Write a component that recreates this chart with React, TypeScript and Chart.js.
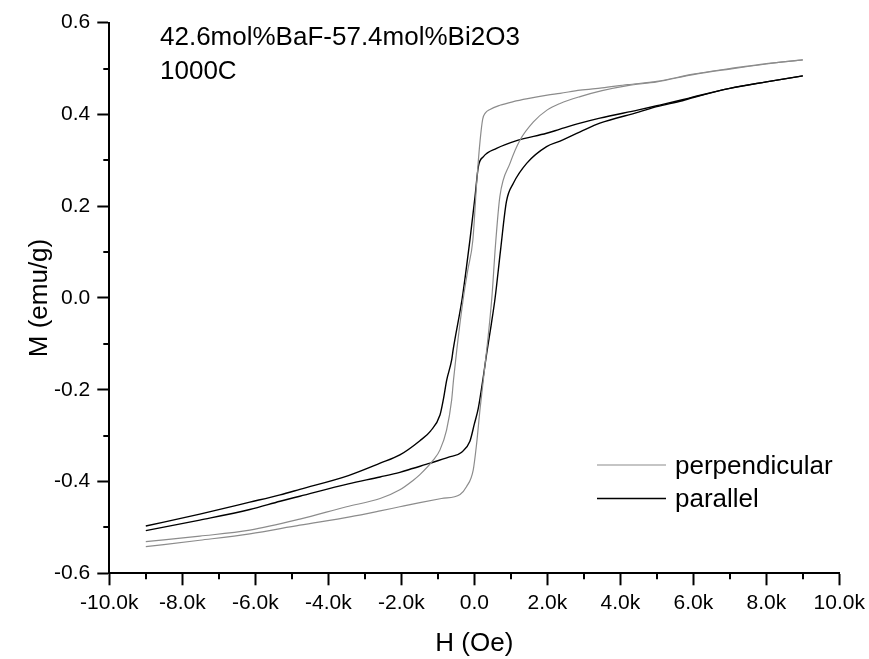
import { useEffect, useRef } from "react";
import { Chart, registerables } from "chart.js";

Chart.register(...registerables);

// ---------- data (H in Oe, M in emu/g) ----------
const perpDescH = [9000, 8000, 7000, 6000, 5000, 4200, 3500, 2900, 2350, 2000, 1500, 1070, 700, 430, 300, 230, 160, 70, -40, -180, -300, -480, -570, -620, -760, -940, -1120, -1490, -1670, -2040, -2580, -3500, -4780, -6150, -7520, -9000];
const perpDescM = [0.519, 0.511, 0.5, 0.488, 0.472, 0.465, 0.458, 0.453, 0.446, 0.442, 0.435, 0.428, 0.42, 0.411, 0.403, 0.39, 0.344, 0.257, 0.126, 0.06, 0.0, -0.113, -0.179, -0.222, -0.288, -0.331, -0.353, -0.385, -0.397, -0.418, -0.437, -0.455, -0.482, -0.506, -0.519, -0.531];

const perpAscH = [-9000, -7520, -6150, -4780, -3410, -2580, -2040, -1490, -900, -390, -210, -30, 60, 160, 340, 480, 580, 700, 980, 1250, 1620, 2000, 2350, 2900, 3500, 4200, 5000, 6000, 7000, 8000, 9000];
const perpAscM = [-0.542, -0.528, -0.514, -0.495, -0.477, -0.464, -0.455, -0.446, -0.437, -0.428, -0.411, -0.375, -0.32, -0.24, -0.113, 0.0, 0.115, 0.221, 0.294, 0.344, 0.384, 0.41, 0.424, 0.439, 0.452, 0.463, 0.471, 0.487, 0.499, 0.51, 0.519];

const parDescH = [9000, 8000, 7000, 6000, 5700, 5000, 4500, 3440, 2900, 2350, 1980, 1160, 610, 250, 110, 20, -120, -210, -330, -580, -620, -756, -850, -940, -1200, -1490, -2040, -2580, -3450, -4780, -5320, -6150, -7520, -9000];
const parDescM = [0.484, 0.471, 0.457, 0.438, 0.432, 0.419, 0.41, 0.392, 0.381, 0.368, 0.359, 0.343, 0.326, 0.308, 0.286, 0.221, 0.126, 0.07, 0.0, -0.113, -0.135, -0.179, -0.222, -0.255, -0.29, -0.311, -0.342, -0.36, -0.387, -0.417, -0.429, -0.445, -0.471, -0.497];

const parAscH = [-9000, -7520, -6150, -5320, -4780, -3450, -2580, -2040, -1670, -1210, -700, -345, -120, 0, 110, 250, 340, 460, 570, 720, 880, 1070, 1440, 1980, 2350, 2900, 3440, 4500, 5000, 5700, 6000, 7000, 8000, 9000];
const parAscM = [-0.507, -0.484, -0.461, -0.443, -0.432, -0.405, -0.39, -0.38, -0.371, -0.36, -0.347, -0.336, -0.312, -0.275, -0.24, -0.17, -0.12, -0.06, 0.0, 0.105, 0.21, 0.25, 0.294, 0.33, 0.342, 0.362, 0.381, 0.405, 0.417, 0.43, 0.437, 0.457, 0.471, 0.484];

const seriesNames = ["perpendicular", "parallel"];
const seriesColors = ["#8c8c8c", "#000000"];

const xTickValues = [-10000, -8000, -6000, -4000, -2000, 0, 2000, 4000, 6000, 8000, 10000];
const xTickLabels = ["-10.0k", "-8.0k", "-6.0k", "-4.0k", "-2.0k", "0.0", "2.0k", "4.0k", "6.0k", "8.0k", "10.0k"];
const yTickValues = [-0.6, -0.4, -0.2, 0.0, 0.2, 0.4, 0.6];
const yTickLabels = ["-0.6", "-0.4", "-0.2", "0.0", "0.2", "0.4", "0.6"];

const xTitle = "H (Oe)";
const yTitle = "M (emu/g)";
const noteLines = ["42.6mol%BaF-57.4mol%Bi2O3", "1000C"];

const FONT = "'Liberation Sans', Arial, sans-serif";

function pts(h: number[], m: number[]) {
  return h.map((v, i) => ({ x: v, y: m[i] }));
}

function labelFor(values: number[], labels: string[], v: number) {
  const i = values.findIndex((t) => Math.abs(t - v) < 1e-6 * Math.max(1, Math.abs(t)));
  return i >= 0 ? labels[i] : "";
}

const minorTicks = {
  id: "minorTicks",
  afterDraw(chart: any) {
    const ctx = chart.ctx;
    const xs = chart.scales.x;
    const ys = chart.scales.y;
    ctx.save();
    ctx.strokeStyle = "#000";
    ctx.lineWidth = 2;
    for (let i = 0; i < xs.ticks.length - 1; i++) {
      const v = (xs.ticks[i].value + xs.ticks[i + 1].value) / 2;
      const p = Math.round(xs.getPixelForValue(v));
      ctx.beginPath();
      ctx.moveTo(p, xs.top);
      ctx.lineTo(p, xs.top + 6);
      ctx.stroke();
    }
    for (let i = 0; i < ys.ticks.length - 1; i++) {
      const v = (ys.ticks[i].value + ys.ticks[i + 1].value) / 2;
      const p = Math.round(ys.getPixelForValue(v));
      ctx.beginPath();
      ctx.moveTo(ys.right - 6, p);
      ctx.lineTo(ys.right, p);
      ctx.stroke();
    }
    ctx.restore();
  },
};

const legendAndNote = {
  id: "legendAndNote",
  afterDraw(chart: any) {
    const ctx = chart.ctx;
    ctx.save();
    ctx.font = `26px ${FONT}`;
    ctx.fillStyle = "#000";
    ctx.textBaseline = "middle";
    ctx.textAlign = "left";
    ctx.fillText(noteLines[0], 160, 38);
    ctx.fillText(noteLines[1], 160, 72);
    const rows = [465, 498.5];
    seriesNames.forEach((name, i) => {
      const y = rows[i];
      ctx.strokeStyle = seriesColors[i];
      ctx.lineWidth = i === 0 ? 1.2 : 1.4;
      ctx.beginPath();
      ctx.moveTo(597, y);
      ctx.lineTo(666, y);
      ctx.stroke();
      ctx.fillText(name, 675, y + 1.5);
    });
    ctx.restore();
  },
};

export default function App() {
  const ref = useRef<HTMLCanvasElement | null>(null);

  useEffect(() => {
    if (!ref.current) return;
    const chart = new Chart(ref.current, {
      type: "line",
      data: {
        datasets: [
          { label: seriesNames[0], data: pts(perpDescH, perpDescM), borderColor: seriesColors[0], borderWidth: 1.2 },
          { label: seriesNames[0], data: pts(perpAscH, perpAscM), borderColor: seriesColors[0], borderWidth: 1.2 },
          { label: seriesNames[1], data: pts(parDescH, parDescM), borderColor: seriesColors[1], borderWidth: 1.4 },
          { label: seriesNames[1], data: pts(parAscH, parAscM), borderColor: seriesColors[1], borderWidth: 1.4 },
        ],
      },
      options: {
        animation: false,
        responsive: false,
        devicePixelRatio: 1,
        parsing: false as any,
        elements: {
          point: { radius: 0, hoverRadius: 0 },
          line: { cubicInterpolationMode: "monotone", fill: false },
        },
        layout: { padding: { left: 0, top: 22.7, right: 29.7, bottom: 0 } },
        plugins: {
          legend: { display: false },
          tooltip: { enabled: false },
        },
        scales: {
          x: {
            type: "linear",
            min: -10000,
            max: 10000,
            ticks: {
              stepSize: 2000,
              color: "#000",
              font: { family: FONT, size: 21 },
              padding: 5,
              maxRotation: 0,
              autoSkip: false,
              callback: (v: any) => labelFor(xTickValues, xTickLabels, Number(v)),
            },
            grid: { display: true, drawOnChartArea: false, drawTicks: true, tickLength: 12, tickWidth: 2, tickColor: "#000" },
            border: { display: true, color: "#000", width: 2 },
            title: { display: true, text: xTitle, color: "#000", font: { family: FONT, size: 26, lineHeight: 1.2 }, padding: { top: 0, bottom: 0 } },
            afterFit: (s: any) => {
              s.height = 659 - 573.3;
              s.paddingLeft = 0;
              s.paddingRight = 0;
            },
          },
          y: {
            type: "linear",
            min: -0.6,
            max: 0.6,
            ticks: {
              stepSize: 0.2,
              color: "#000",
              font: { family: FONT, size: 21 },
              padding: 7,
              autoSkip: false,
              callback: (v: any) => labelFor(yTickValues, yTickLabels, Number(v)),
            },
            grid: { display: true, drawOnChartArea: false, drawTicks: true, tickLength: 12, tickWidth: 2, tickColor: "#000" },
            border: { display: true, color: "#000", width: 2 },
            title: { display: true, text: yTitle, color: "#000", font: { family: FONT, size: 26, lineHeight: 1.2 }, padding: { top: 24, bottom: 0 } },
            afterFit: (s: any) => {
              s.width = 109.3;
            },
          },
        },
      },
      plugins: [minorTicks, legendAndNote],
    });
    return () => chart.destroy();
  }, []);

  return (
    <div style={{ position: "absolute", left: 0, top: 0, width: 869, height: 659, background: "#fff" }}>
      <canvas ref={ref} width={869} height={659} style={{ display: "block" }} />
    </div>
  );
}
